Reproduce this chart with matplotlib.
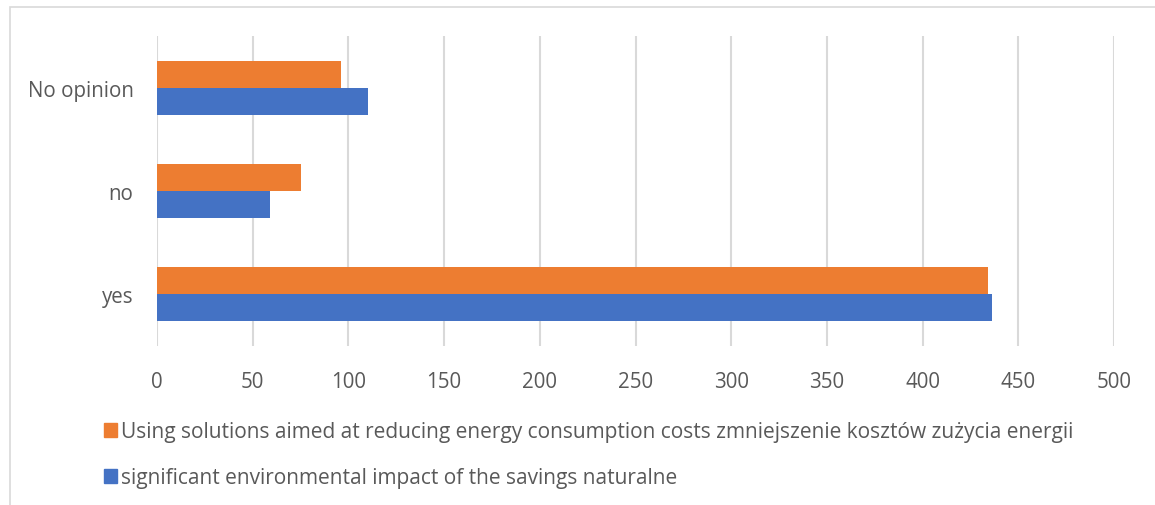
import matplotlib
matplotlib.use("Agg")
import matplotlib.pyplot as plt
from matplotlib.patches import Rectangle, Patch
import numpy as np

categories = ["yes", "no", "No opinion"]
series_names = [
    "Using solutions aimed at reducing energy consumption costs zmniejszenie kosztów zużycia energii",
    "significant environmental impact of the savings naturalne",
]
costs = [434, 75, 96]
environment = [436, 59, 110]
x_ticks = [0, 50, 100, 150, 200, 250, 300, 350, 400, 450, 500]

ORANGE = "#ED7D31"
BLUE = "#4472C4"
TEXT = "#595959"
GRID = "#D9D9D9"

plt.rcParams["font.family"] = ["Open Sans", "DejaVu Sans"]

fig = plt.figure(figsize=(11.55, 5.06), dpi=100)
ax = fig.add_axes([157 / 1155, 1 - 347 / 506, (1114 - 157) / 1155, (347 - 37) / 506])

# outer chart frame
fig.patches.append(Rectangle((10 / 1155, -0.01), 1.2, 1 - 8 / 506 + 0.01,
                             transform=fig.transFigure, fill=False,
                             edgecolor=GRID, linewidth=1.2))

y = np.arange(len(categories))
h = 0.262
ax.barh(y + h / 2, costs, height=h, color=ORANGE, zorder=3)
ax.barh(y - h / 2, environment, height=h, color=BLUE, zorder=3)

ax.set_xlim(0, 500)
ax.set_ylim(-0.5, len(categories) - 0.5)
ax.set_xticks(x_ticks)
ax.set_yticks(y)
ax.set_yticklabels(categories)
ax.grid(axis="x", color=GRID, linewidth=1.5, zorder=0)
for s in ax.spines.values():
    s.set_visible(False)
ax.tick_params(axis="both", length=0, labelsize=14.8, colors=TEXT)
ax.tick_params(axis="x", pad=18)
ax.tick_params(axis="y", pad=17)

handles = [Patch(color=ORANGE), Patch(color=BLUE)]
fig.legend(handles, series_names, loc="upper left",
           bbox_to_anchor=(96 / 1155, 1 - 414 / 506), frameon=False,
           fontsize=15, labelcolor=TEXT, handlelength=0.6, handleheight=0.6,
           handletextpad=0.22, labelspacing=1.2, borderaxespad=0)

fig.savefig("out.png", dpi=100, facecolor="white")
